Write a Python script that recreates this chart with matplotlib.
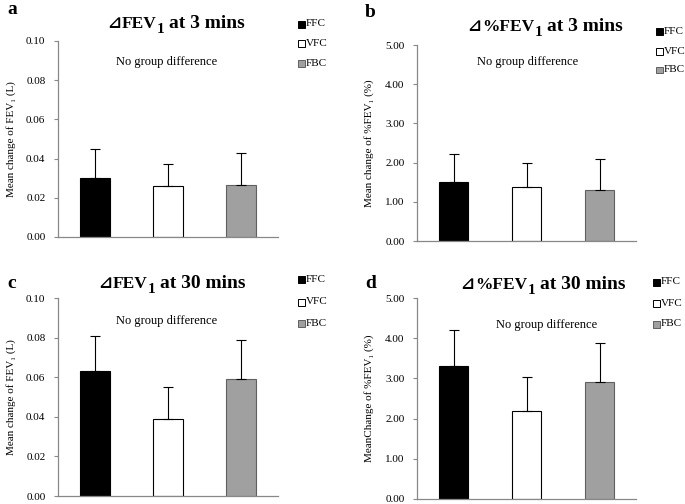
import matplotlib
matplotlib.use('Agg')
import matplotlib.pyplot as plt
import numpy as np

plt.rcParams['font.family'] = ['Liberation Serif', 'DejaVu Serif', 'DejaVu Sans']

groups = ['FFC', 'VFC', 'FBC']
colors = ['#000000', '#ffffff', '#a0a0a0']
edges = ['#000000', '#000000', '#606060']

fev_3 = [0.030, 0.026, 0.0265]
fev_3_err = [0.015, 0.011, 0.0165]
pct_3 = [1.50, 1.39, 1.30]
pct_3_err = [0.73, 0.61, 0.79]
fev_30 = [0.063, 0.039, 0.059]
fev_30_err = [0.018, 0.016, 0.020]
pct_30 = [3.31, 2.19, 2.90]
pct_30_err = [0.90, 0.85, 0.98]

fev_ticks = [0.00, 0.02, 0.04, 0.06, 0.08, 0.10]
pct_ticks = [0.00, 1.00, 2.00, 3.00, 4.00, 5.00]

W, H = 685, 504
fig = plt.figure(figsize=(W / 100, H / 100), dpi=100)


def px_axes(l, r, t, b):
    return fig.add_axes([l / W, 1 - b / H, (r - l) / W, (b - t) / H])


def fy(y):
    return 1 - y / H


def draw_panel(ax, vals, errs, ticks, ylabel, ylab_x):
    x = np.arange(len(groups))
    ax.bar(x, vals, width=0.41, color=colors, edgecolor=edges, linewidth=0.8, zorder=2)
    ax.errorbar(x, vals, yerr=[np.zeros(len(errs)), errs], fmt='none', ecolor='black',
                elinewidth=0.8, capsize=3.5, capthick=0.8, zorder=3)
    ax.set_xlim(-0.5, 2.5)
    ax.set_ylim(ticks[0], ticks[-1])
    ax.set_yticks(ticks)
    ax.set_yticklabels(['{:.2f}'.format(t) for t in ticks], fontsize=8)
    ax.set_xticks([])
    for s in ['top', 'right']:
        ax.spines[s].set_visible(False)
    for s in ['left', 'bottom']:
        ax.spines[s].set_color('#888888')
        ax.spines[s].set_linewidth(0.9)
    ax.tick_params(axis='y', length=3, width=0.8, color='#888888', pad=6)
    pos = ax.get_position()
    fig.text(ylab_x / W, pos.y0 + pos.height / 2, ylabel, rotation=90,
             ha='center', va='center', fontsize=8)


def draw_title(x, y, head, tail):
    # triangle + head, big subscript 1, then the rest
    t1 = fig.text(x / W, fy(y), head, fontsize=12.5, fontweight='bold', va='baseline', ha='left')
    fig.text((x - 0.5) / W, fy(y), '\u22bf', fontsize=12, fontweight='bold', va='baseline',
             ha='right', family=['DejaVu Sans'])
    plt.annotate('1', xy=(1, 0), xycoords=t1, xytext=(0.3, -3), textcoords='offset points',
                 fontsize=11, fontweight='bold', ha='left', va='bottom')
    plt.annotate(tail, xy=(1, 0), xycoords=t1, xytext=(9, 0), textcoords='offset points',
                 fontsize=14, fontweight='bold', ha='left', va='bottom')


def draw_legend(x, ys):
    for g, c, e, y in zip(groups, colors, edges, ys):
        fig.patches.append(plt.Rectangle((x / W, fy(y) - 3.5 / H), 6.5 / W, 6.5 / H,
                                         facecolor=c, edgecolor=e, linewidth=0.7,
                                         transform=fig.transFigure, figure=fig))
        fig.text((x + 8) / W, fy(y), g, fontsize=8, va='center', ha='left')


ax_a = px_axes(58, 278, 41, 237)
ax_b = px_axes(417, 636, 45, 241)
ax_c = px_axes(58, 278, 298, 496)
ax_d = px_axes(417, 636, 298, 499)

draw_panel(ax_a, fev_3, fev_3_err, fev_ticks, 'Mean change of FEV\u2081 (L)', 11)
draw_panel(ax_b, pct_3, pct_3_err, pct_ticks, 'Mean change of %FEV\u2081 (%)', 369)
draw_panel(ax_c, fev_30, fev_30_err, fev_ticks, 'Mean change of FEV\u2081 (L)', 11)
draw_panel(ax_d, pct_30, pct_30_err, pct_ticks, 'MeanChange of %FEV\u2081 (%)', 369)

draw_title(122, 28, 'FEV', 'at 3 mins')
draw_title(482, 31, '%FEV', 'at 3 mins')
draw_title(113, 288, 'FEV', 'at 30 mins')
draw_title(475, 289, '%FEV', 'at 30 mins')

for lbl, x, y in [('a', 7, 14), ('b', 365, 17), ('c', 7, 288), ('d', 365, 288)]:
    fig.text(x / W, fy(y), lbl, fontsize=14, fontweight='bold', va='baseline', ha='left')

for x, y in [(167, 62), (528, 62), (167, 321), (547, 325)]:
    fig.text(x / W, fy(y), 'No group difference', fontsize=9, ha='center', va='center')

draw_legend(298, [24, 43, 63])
draw_legend(656, [31, 51, 70])
draw_legend(298, [279, 302, 323])
draw_legend(653, [282, 303, 324])

fig.savefig('out.png', dpi=100)
